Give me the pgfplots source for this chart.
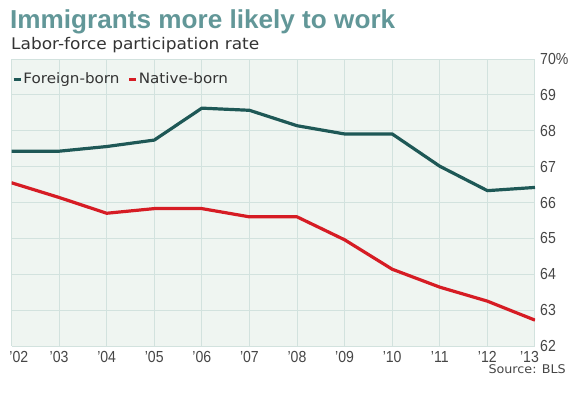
\documentclass[border=0pt]{standalone}
\usepackage{graphicx}
\usepackage{pgfplots}
\pgfplotsset{compat=1.18}
\usepackage{fontspec}
\setmainfont{DejaVu Sans}
\newfontfamily\titlefont{Liberation Sans}
\newfontfamily\tickfont{Liberation Sans}[FakeStretch=0.88]
\newfontfamily\verd{DejaVu Sans}[FakeStretch=1.06]
\definecolor{bgcol}{RGB}{239,245,241}
\definecolor{gridcol}{RGB}{210,226,222}
\definecolor{titlecol}{RGB}{98,151,152}
\definecolor{foreigncol}{RGB}{30,88,86}
\definecolor{nativecol}{RGB}{214,28,36}
\definecolor{txtcol}{RGB}{51,51,51}
\definecolor{tickcol}{RGB}{70,70,70}
\begin{document}
\begin{tikzpicture}[x=1bp,y=1bp]
\path[use as bounding box] (0bp,0bp) rectangle (569bp,398bp);
\node[anchor=base west, inner sep=0pt, text=titlecol] at (10bp,369.7bp)
  {\resizebox{385bp}{18.8bp}{\titlefont\bfseries Immigrants more likely to work}};
\node[anchor=base west, inner sep=0pt, text=txtcol] at (11bp,348bp)
  {\verd\fontsize{16bp}{18bp}\selectfont Labor-force participation rate};
\node[anchor=base east, inner sep=0pt, text=tickcol] at (566bp,24.7bp)
  {\verd\fontsize{12bp}{14bp}\selectfont Source: BLS};
\begin{axis}[
  at={(11.5bp,52bp)}, anchor=south west,
  scale only axis, width=523.5bp, height=287bp,
  xmin=2002, xmax=2013, ymin=62, ymax=70,
  axis background/.style={fill=bgcol},
  axis line style={draw=none},
  major tick length=0pt,
  grid=major,
  grid style={gridcol, line width=0.9bp},
  xtick={2002,...,2013},
  xticklabels={\hspace*{14.6bp}’02,’03,’04,’05,’06,’07,’08,’09,’10,’11,’12,’13\hspace*{11bp}},
  ytick={62,...,70},
  yticklabels={62,63,64,65,66,67,68,69,70\%},
  yticklabel pos=right,
  yticklabel style={anchor=west, inner sep=0pt, xshift=5bp, text=tickcol, font=\tickfont\fontsize{16bp}{18bp}\selectfont},
  xticklabel style={anchor=north, inner sep=0pt, yshift=-5bp, text=tickcol, font=\tickfont\fontsize{16bp}{18bp}\selectfont},
  legend columns=2,
  legend style={at={(0,0.93)}, anchor=west, draw=none, fill=none, inner sep=0.5bp,
    font=\verd\fontsize{14.3bp}{16bp}\selectfont, text=txtcol,
    /tikz/every even column/.append style={column sep=7bp},
    nodes={inner sep=1.2bp}},
  legend image code/.code={\draw[#1, line width=3bp] (0bp,0bp) -- (7bp,0bp);},
  every axis plot/.append style={line width=3.2bp, line join=round},
]
\addplot[foreigncol] coordinates {
(2002,67.43) (2003,67.43) (2004,67.56) (2005,67.74) (2006,68.63) (2007,68.57)
(2008,68.14) (2009,67.91) (2010,67.91) (2011,67.01) (2012,66.33) (2013,66.42)};
\addlegendentry{Foreign-born}
\addplot[nativecol] coordinates {
(2002,66.55) (2003,66.14) (2004,65.70) (2005,65.83) (2006,65.83) (2007,65.60)
(2008,65.60) (2009,64.96) (2010,64.14) (2011,63.64) (2012,63.25) (2013,62.72)};
\addlegendentry{Native-born}
\end{axis}
\end{tikzpicture}
\end{document}
